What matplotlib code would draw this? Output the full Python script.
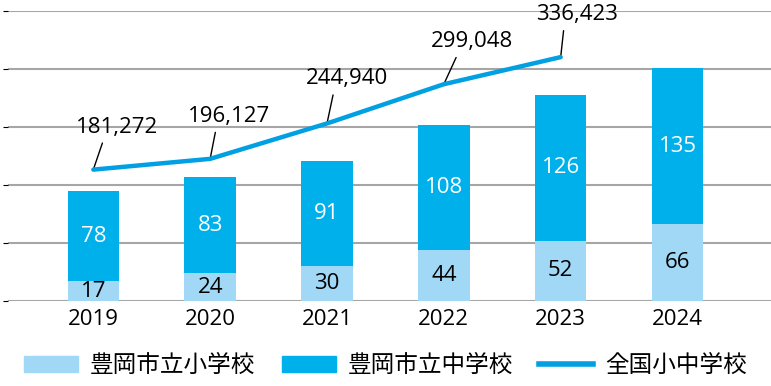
import matplotlib
matplotlib.use('Agg')
import matplotlib.pyplot as plt
from matplotlib.lines import Line2D
from matplotlib.patches import Patch

plt.rcParams['font.family'] = ['Open Sans', 'Noto Sans CJK JP', 'DejaVu Sans']

# data
years = ['2019', '2020', '2021', '2022', '2023', '2024']
elementary = [17, 24, 30, 44, 52, 66]      # 豊岡市立小学校
junior_high = [78, 83, 91, 108, 126, 135]  # 豊岡市立中学校
national = [181272, 196127, 244940, 299048, 336423]  # 全国小中学校 (2019-2023)

label_el = '豊岡市立小学校'
label_jh = '豊岡市立中学校'
label_nat = '全国小中学校'

c_light = '#a0d8f5'
c_blue = '#00b0ea'
c_line = '#00a0e2'
c_grid = '#a6a6a6'

fig = plt.figure(figsize=(7.71, 3.86), dpi=100)
ax = fig.add_axes([0.0104, 0.22, 0.9896, 0.7515])

x = list(range(len(years)))
ax.bar(x, elementary, width=0.44, color=c_light, zorder=2)
ax.bar(x, junior_high, width=0.44, bottom=elementary, color=c_blue, zorder=2)

for i in x:
    ax.text(i, elementary[i] / 2, str(elementary[i]), ha='center', va='center',
            fontsize=16, color='black', zorder=3)
    ax.text(i, elementary[i] + junior_high[i] / 2, str(junior_high[i]), ha='center',
            va='center', fontsize=16, color='white', zorder=3)

ax.set_ylim(0, 250)
ax.set_xlim(-0.73, 5.8)
ax.set_yticks([0, 50, 100, 150, 200, 250])
ax.yaxis.grid(True, color=c_grid, lw=1.5, zorder=0)
ax.set_axisbelow(True)
ax.tick_params(axis='y', left=False, labelleft=False)
ax.tick_params(axis='x', length=0, labelsize=16, pad=6)
ax.set_xticks(x)
ax.set_xticklabels(years)
for s in ax.spines.values():
    s.set_visible(False)

# national total on a hidden secondary scale
ax2 = ax.twinx()
ax2.set_ylim(0, 400000)
ax2.axis('off')
xn = x[:len(national)]
ax2.plot(xn, national, color=c_line, lw=3.2, solid_capstyle='round', zorder=4)

offsets = [(24, 32), (19, 32), (20, 34), (28, 32), (16, 32)]
for i, v in enumerate(national):
    ax2.annotate(f'{v:,}', xy=(xn[i], v), xytext=offsets[i], textcoords='offset pixels',
                 ha='center', va='bottom', fontsize=16,
                 arrowprops=dict(arrowstyle='-', color='black', lw=1,
                                 relpos=(0.35, 0.1), shrinkA=2, shrinkB=1))

handles = [Patch(color=c_light), Patch(color=c_blue), Line2D([], [], color=c_line, lw=4)]
fig.legend(handles, [label_el, label_jh, label_nat], loc='lower center', ncol=3,
           frameon=False, fontsize=17, handlelength=2.3, handleheight=0.7,
           columnspacing=1.1, handletextpad=0.5, bbox_to_anchor=(0.5, -0.035))

fig.savefig('out.png', dpi=100)
